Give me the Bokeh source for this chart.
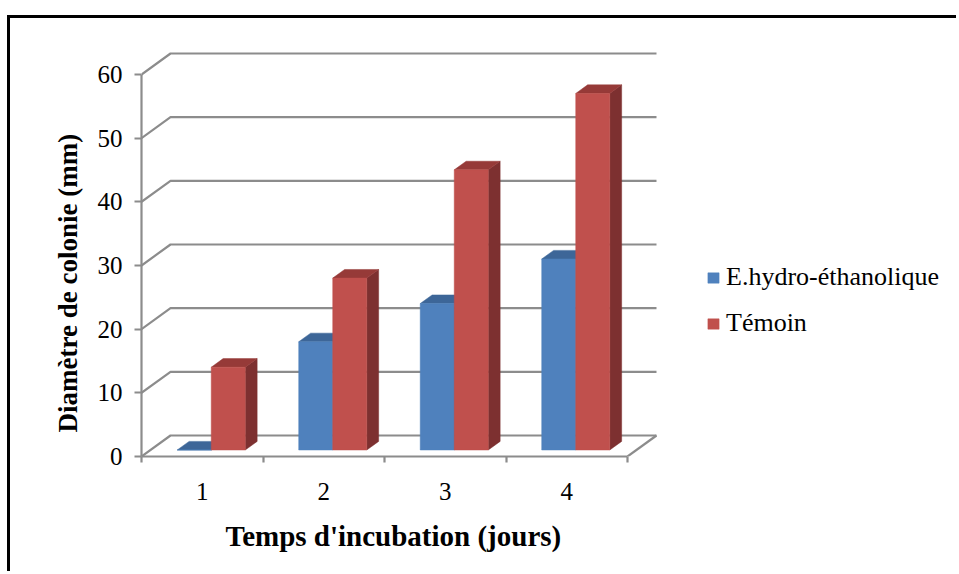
from bokeh.plotting import figure
from bokeh.models import (Range1d, FixedTicker, Legend, LegendItem, Title)
from bokeh.embed import file_html
from bokeh.resources import INLINE

# ---------------- data ----------------
categories = ["1", "2", "3", "4"]
hydro = [0, 17, 23, 30]          # E.hydro-éthanolique
temoin = [13, 27, 44, 56]        # Témoin
y_ticks = [0, 10, 20, 30, 40, 50, 60]
series_names = ["E.hydro-éthanolique", "Témoin"]
x_title = "Temps d'incubation (jours)"
y_title = "Diamètre de colonie (mm)"

# ---------------- styles / geometry ----------------
FONT = "Liberation Serif"
GRID = "#8c8c8c"
front_cols = ["#4F81BD", "#C0504D"]
top_cols = ["#3D6698", "#963A38"]
side_cols = ["#385D8A", "#7D3030"]

# page offset of the canvas (outer black frame drawn with CSS border)
OFF_X, OFF_Y = 10, 18
W, H = 959 - OFF_X, 574 - OFF_Y
LEFT = 141 - OFF_X
TOP = 22 - OFF_Y
BOTTOM = H - (456 - OFF_Y)
RIGHT = 4
px_per_x = 121.5
px_per_y = 382 / 60.0
frame_w = W - LEFT - RIGHT
frame_h = H - TOP - BOTTOM

x0r = 0.5
x1r = x0r + frame_w / px_per_x
y1r = frame_h / px_per_y

# depth vector (3D projection) in data units
DX = 29 / px_per_x
DY = 21 / px_per_y
F1 = 0.31      # bar front plane depth fraction
FD = 0.41      # bar depth fraction
BW = 0.28      # bar width (category units)

p = figure(width=W, height=H, output_backend="svg", toolbar_location=None,
           x_range=Range1d(x0r, x1r), y_range=Range1d(0, y1r),
           min_border_left=LEFT, min_border_right=RIGHT,
           min_border_top=TOP, min_border_bottom=BOTTOM)
p.styles = {"margin-left": "7px", "margin-top": "15px",
            "border-left": "3px solid black", "border-top": "3px solid black"}
p.outline_line_color = None
p.xgrid.visible = False
p.ygrid.visible = False
p.background_fill_color = "white"
p.border_fill_color = "white"

n = len(categories)
xlo, xhi = 0.5, n + 0.5

# back wall gridlines + left wall diagonals
gx, gy = [], []
for t in y_ticks:
    gx.append([xlo, xlo + DX, xhi + DX])
    gy.append([t, t + DY, t + DY])
p.multi_line(gx, gy, line_color=GRID, line_width=2.2)
# floor right edge
p.multi_line([[xhi, xhi + DX]], [[0, DY]], line_color=GRID, line_width=2.2)

# bars
legend_items = []
for s, vals in enumerate([hydro, temoin]):
    fx0, fx1, fy0, fy1 = [], [], [], []
    txs, tys, sxs, sys_ = [], [], [], []
    for i, v in enumerate(vals):
        xc = i + 1
        a = xc - BW + s * BW + F1 * DX
        b = a + BW
        y0 = F1 * DY
        y1 = v + F1 * DY
        ddx, ddy = FD * DX, FD * DY
        fx0.append(a); fx1.append(b); fy0.append(y0); fy1.append(y1)
        txs.append([a, b, b + ddx, a + ddx])
        tys.append([y1, y1, y1 + ddy, y1 + ddy])
        sxs.append([b, b + ddx, b + ddx, b])
        sys_.append([y0, y0 + ddy, y1 + ddy, y1])
    p.patches(sxs, sys_, fill_color=side_cols[s], line_color=side_cols[s], line_width=0.5)
    p.patches(txs, tys, fill_color=top_cols[s], line_color=top_cols[s], line_width=0.5)
    r = p.quad(left=fx0, right=fx1, bottom=fy0, top=fy1,
               fill_color=front_cols[s], line_color=front_cols[s], line_width=0.5)
    legend_items.append(LegendItem(label=series_names[s], renderers=[r]))

# axes
yax = p.yaxis[0]
yax.ticker = FixedTicker(ticks=y_ticks)
yax.bounds = (0, 60)
yax.axis_line_color = GRID
yax.axis_line_width = 2.2
yax.major_tick_line_color = GRID
yax.major_tick_line_width = 2.2
yax.major_tick_out = 7
yax.major_tick_in = 0
yax.minor_tick_line_color = None
yax.major_label_standoff = 12
yax.major_label_text_font = FONT
yax.major_label_text_font_size = "25px"
yax.major_label_text_color = "black"

xax = p.xaxis[0]
xax.ticker = FixedTicker(ticks=[i + 1 for i in range(n)],
                         minor_ticks=[i + 0.5 for i in range(n + 1)])
xax.major_label_overrides = {i + 1: c for i, c in enumerate(categories)}
xax.bounds = (xlo, xhi)
xax.axis_line_color = GRID
xax.axis_line_width = 2.2
xax.major_tick_line_color = None
xax.major_tick_out = 0
xax.major_tick_in = 0
xax.minor_tick_line_color = GRID
xax.minor_tick_line_width = 2.2
xax.minor_tick_out = 6
xax.minor_tick_in = 0
xax.major_label_standoff = 20
xax.major_label_text_font = FONT
xax.major_label_text_font_size = "25px"
xax.major_label_text_color = "black"

# axis titles (as side titles so they can be placed like the original)
yt = Title(text=y_title, align="left", offset=24, standoff=24,
           text_font=FONT, text_font_size="27px", text_font_style="bold",
           text_color="black")
p.add_layout(yt, "left")
xt = Title(text=x_title, align="left", offset=84, standoff=30,
           text_font=FONT, text_font_size="29px", text_font_style="bold",
           text_color="black")
p.add_layout(xt, "below")

legend = Legend(items=legend_items, location=(565, 118), orientation="vertical",
                label_text_font=FONT, label_text_font_size="26px",
                label_text_color="black", glyph_width=14, glyph_height=13,
                label_standoff=6, spacing=16, padding=0, margin=0,
                border_line_color=None, background_fill_alpha=0)
p.add_layout(legend)

open("out.html", "w").write(file_html(p, INLINE))
